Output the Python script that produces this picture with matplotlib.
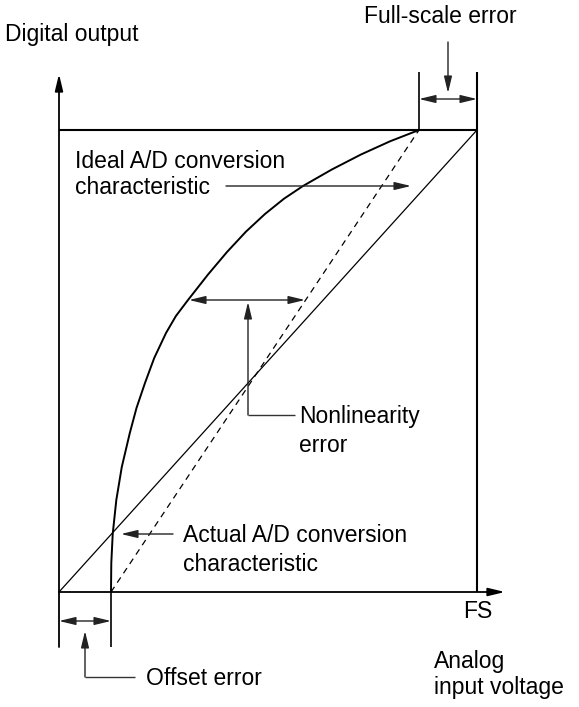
import matplotlib
matplotlib.use("Agg")
import matplotlib.pyplot as plt
import numpy as np

plt.rcParams['font.family'] = ['Liberation Sans', 'DejaVu Sans']

# ---- data (normalized: 0..1 = 0..FS on both axes) ----
offset_error = 0.1244          # fraction of FS
full_scale_error = 0.1388      # fraction of FS

ideal_x = [0.0, 1.0]
ideal_y = [0.0, 1.0]

# actual (nonlinear) conversion characteristic
actual_x = [0.1244, 0.1251, 0.1285, 0.1371, 0.1502, 0.1694, 0.1854, 0.2057,
            0.2278, 0.2560, 0.2797, 0.3086, 0.3565, 0.4019, 0.4474, 0.4928,
            0.5383, 0.5837, 0.6531, 0.7225, 0.7919, 0.8612]
actual_y = [0.0000, 0.0628, 0.1255, 0.1991, 0.2706, 0.3442, 0.3983, 0.4524,
            0.5065, 0.5606, 0.5974, 0.6320, 0.6872, 0.7359, 0.7801, 0.8182,
            0.8513, 0.8788, 0.9147, 0.9470, 0.9755, 1.0000]

# straight line joining the end points of the actual characteristic
chord_x = [offset_error, 1.0 - full_scale_error]
chord_y = [0.0, 1.0]

FS_TEXT = 16.5

# ---- figure ----
W, H = 579, 707
fig = plt.figure(figsize=(W / 100, H / 100), dpi=100)
ax = fig.add_axes([0, 0, 1, 1])
X0, Y0, SX, SY = 59, 592, 418, 462
ax.set_xlim(-X0 / SX, (W - X0) / SX)
ax.set_ylim((Y0 - H) / SY, Y0 / SY)
ax.axis('off')


def P(px, py):
    """layout helper: picture pixel -> data units"""
    return ((px - X0) / SX, (Y0 - py) / SY)


def arrow(tail, tip, style='-|>', lw=1.0, color='#222222'):
    ax.annotate('', xy=tip, xytext=tail,
                arrowprops=dict(arrowstyle=style + ',head_length=1.0,head_width=0.24',
                                lw=lw, color=color, shrinkA=0, shrinkB=0,
                                mutation_scale=10))


def line(xs, ys, **kw):
    kw.setdefault('color', 'black')
    kw.setdefault('lw', 1.0)
    ax.plot(xs, ys, solid_capstyle='butt', **kw)


def label(px, py, s):
    ax.text(*P(px, py), s, fontsize=FS_TEXT, va='baseline', ha='left')


# axes
arrow(P(59, 647), P(59, 74), lw=1.3, color='black')
arrow(P(59, 592), P(505, 592), lw=1.3, color='black')

# box (full scale output / FS input)
line([0, 1], [1, 1], lw=1.5)
line([1, 1], [0, P(0, 72)[1]], lw=1.5)

# characteristics
line(ideal_x, ideal_y, lw=0.9)
line(chord_x, chord_y, lw=0.9, ls=(0, (5, 4)))
line(actual_x, actual_y, lw=1.4)

# full-scale error dimension
fs_left = 1.0 - full_scale_error
line([fs_left, fs_left], [1, P(0, 72)[1]], lw=1.2)
arrow((fs_left, P(0, 99)[1]), (1.0, P(0, 99)[1]), style='<|-|>')
arrow(P(448, 42), P(448, 93))
label(364, 23, 'Full-scale error')

# offset error dimension
line([offset_error, offset_error], [0, P(0, 647)[1]], lw=1.2)
arrow((0, P(0, 621)[1]), (offset_error, P(0, 621)[1]), style='<|-|>')
line(*zip(P(135, 677), P(85, 677)), color='#333333')
arrow(P(85, 677), P(85, 631))
label(146, 685, 'Offset error')

# nonlinearity error
arrow(P(189, 300), P(305, 300), style='<|-|>')
line(*zip(P(295, 415), P(248, 415)), color='#333333')
arrow(P(248, 415), P(248, 302))
label(299, 423, 'Nonlinearity')
label(299, 452, 'error')

# ideal label
label(75, 168, 'Ideal A/D conversion')
label(75, 194, 'characteristic')
arrow(P(226, 186), P(411, 186))

# actual label
arrow(P(173, 534), P(121, 534))
label(183, 542, 'Actual A/D conversion')
label(183, 571, 'characteristic')

# axis labels
label(5, 41, 'Digital output')
label(463, 618, 'FS')
label(434, 668, 'Analog')
label(434, 694, 'input voltage')

fig.savefig('out.png', dpi=100)
